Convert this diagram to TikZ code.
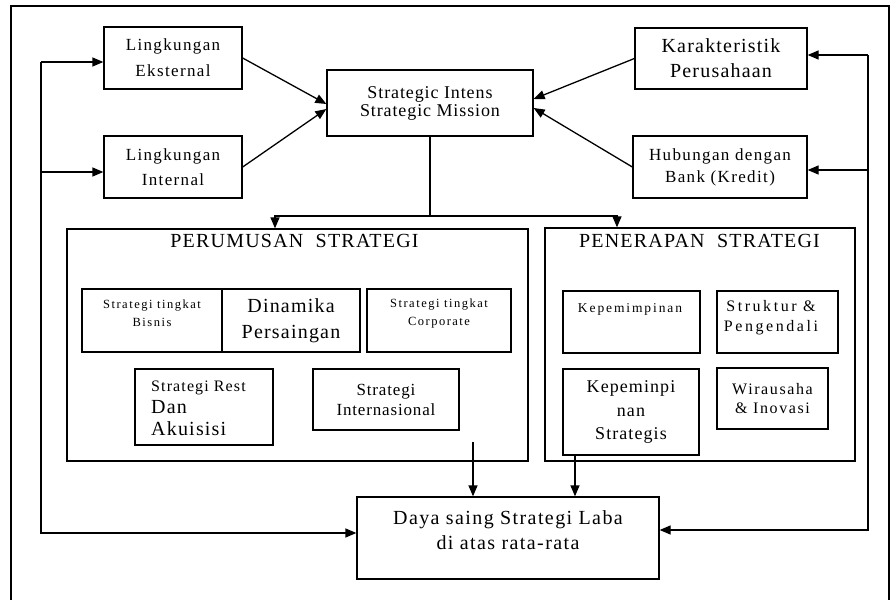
\documentclass[tikz,border=0pt]{standalone}
\usepackage{fontspec}
\setmainfont{Liberation Serif}
\usetikzlibrary{arrows.meta}
\newcommand\ftz[3]{\fontsize{#1}{#2}\selectfont\addfontfeature{LetterSpace=#3}}
\begin{document}
\begin{tikzpicture}[x=1pt,y=-1pt,
  bx/.style={draw, line width=1.3pt, inner sep=0pt, align=center},
  tx/.style={inner sep=0pt, align=center},
  ln/.style={line width=1.3pt},
  ar/.style={line width=1.3pt, -{Triangle[length=11pt,width=9pt]}}]
\useasboundingbox (0,0) rectangle (892,600);
% outer frame
\draw[ln] (11,610) -- (11,6) -- (889,6) -- (889,610);

% top boxes
\node[bx, minimum width=138pt, minimum height=62pt, font=\ftz{17}{26}{8}] (ext) at (173,58) {Lingkungan\\Eksternal};
\node[bx, minimum width=138pt, minimum height=62pt, font=\ftz{17}{25}{8}] (int) at (173,167) {Lingkungan\\Internal};
\node[bx, minimum width=206pt, minimum height=66pt, font=\ftz{18}{18}{5}] (mis) at (430,103) {Strategic Intens\\Strategic Mission};
\node[bx, minimum width=172pt, minimum height=61pt, font=\ftz{20}{25}{6}] (kar) at (721,58.5) {Karakteristik\\Perusahaan};
\node[bx, minimum width=174pt, minimum height=62pt, font=\ftz{17}{22}{8}] (hub) at (720,167) {Hubungan dengan\\Bank (Kredit)};

% Perumusan
\node[bx, minimum width=461pt, minimum height=232pt] (perum) at (297.5,345) {};
\node[tx, font=\ftz{20}{24}{6}] (perumT) at (294.5,241) {PERUMUSAN~~STRATEGI};
\node[bx, minimum width=140pt, minimum height=63pt] (bis) at (152,320.5) {};
\node[tx, font=\ftz{12.5}{18}{12}] (bisT) at (152,313) {Strategi tingkat\\Bisnis};
\node[bx, minimum width=138pt, minimum height=63pt, font=\ftz{20}{26}{6}] (din) at (291,320.5) {Dinamika\\Persaingan};
\node[bx, minimum width=144pt, minimum height=63pt] (corp) at (439,320.5) {};
\node[tx, font=\ftz{12.5}{18}{12}] (corpT) at (439,313) {Strategi tingkat\\Corporate};
\node[bx, minimum width=138pt, minimum height=76pt] (rest) at (204,407) {};
\node[tx, align=left, anchor=west, font=\ftz{20}{22}{6}] (restT) at (151,408) {{\ftz{16}{22}{7}Strategi Rest}\\Dan\\Akuisisi};
\node[bx, minimum width=146pt, minimum height=61pt, font=\ftz{17}{20}{5}] (intl) at (386,399.5) {Strategi\\Internasional};

% Penerapan
\node[bx, minimum width=310pt, minimum height=233pt] (pener) at (700,344.5) {};
\node[tx, font=\ftz{20}{24}{6}] (penerT) at (699.5,241) {PENERAPAN~~STRATEGI};
\node[bx, minimum width=137pt, minimum height=62pt] (kep) at (631.5,322) {};
\node[tx, font=\ftz{13.5}{14}{14}] (kepT) at (630,309) {Kepemimpinan};
\node[bx, minimum width=121pt, minimum height=62pt] (str) at (777.5,322) {};
\node[tx, font=\ftz{16}{20}{16}] (strT) at (771,318) {Struktur \&\\Pengendali};
\node[bx, minimum width=136pt, minimum height=86pt, font=\ftz{18}{23.5}{6}] (keps) at (631,412) {Kepeminpi\\nan\\Strategis};
\node[bx, minimum width=111pt, minimum height=61pt, font=\ftz{16}{19}{10}] (wir) at (772.5,398.5) {Wirausaha\\\& Inovasi};

% result
\node[bx, minimum width=302pt, minimum height=82pt] (daya) at (508,538) {};
\node[tx, font=\ftz{20}{25}{7}] (dayaT) at (508,530) {Daya saing Strategi Laba\\di atas rata-rata};

% inputs to mission
\draw[ar] (ext.east) -- ([shift={(0,1)}]mis.west);
\draw[ar] (int.east) -- ([shift={(0,6)}]mis.west);
\draw[ar] (kar.west) -- ([shift={(0,-4)}]mis.east);
\draw[ar] (hub.west) -- ([shift={(0,5)}]mis.east);

% mission to formulation / implementation
\coordinate (jl) at (275,216);
\coordinate (jr) at (617,216);
\draw[ln] (mis.south) -- (mis.south |- jl);
\draw[ar] (mis.south |- jl) -- (jl) -- (jl |- perum.north);
\draw[ar] (mis.south |- jr) -- (jr) -- (jr |- pener.north);

% down to result
\coordinate (d1) at (473,442);
\coordinate (d2) at (575,455);
\draw[ar] (d1) -- (d1 |- daya.north);
\draw[ar] (d2) -- (d2 |- daya.north);

% left feedback
\coordinate (lt) at (41,62);
\coordinate (lm) at (41,172);
\coordinate (lb) at (41,533);
\draw[ar] (lt) -- (lt -| ext.west);
\draw[ar] (lm) -- (lm -| int.west);
\draw[ar] (lt) -- (lb) -- (lb -| daya.west);

% right feedback
\coordinate (rt) at (868,55);
\coordinate (rm) at (868,170);
\coordinate (rb) at (868,530);
\draw[ar] (rt) -- (rt -| kar.east);
\draw[ar] (rm) -- (rm -| hub.east);
\draw[ar] (rt) -- (rb) -- (rb -| daya.east);
\end{tikzpicture}
\end{document}
